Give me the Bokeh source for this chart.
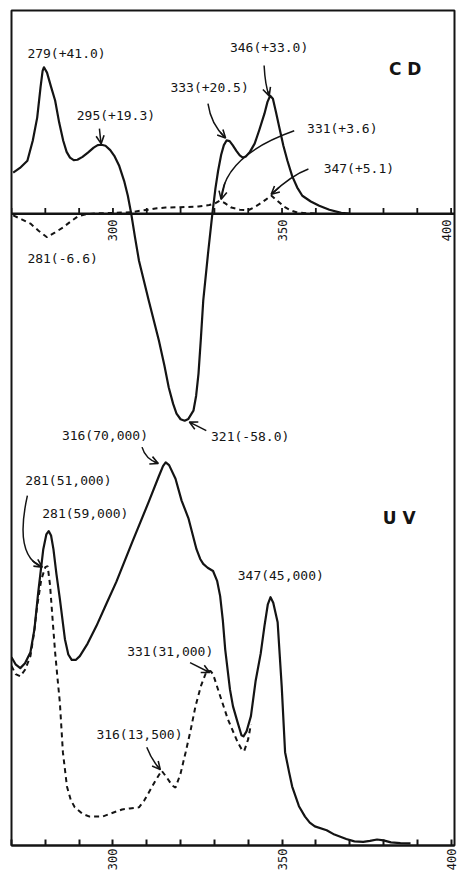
import math
from bokeh.plotting import figure
from bokeh.models import Range1d, FixedTicker, Arrow, OpenHead, Span, Label
from bokeh.core.properties import value
from bokeh.embed import file_html
from bokeh.resources import INLINE

# ---------------- data ----------------
cd_solid_nm = [270.5, 272.5, 274.7, 276.3, 277.6, 278.6, 279.2, 279.6, 280.5, 281.7, 282.9, 284.1,
               285.3, 286.3, 287.3, 288.4, 289.5, 291.0, 292.6, 294.3, 295.5, 296.6, 297.8, 299.2,
               300.4, 301.8, 303.3, 304.4, 305.4, 306.5, 307.7, 310.6, 313.6, 315.2, 316.5, 317.8,
               318.8, 320.0, 321.2, 322.3, 323.8, 324.6, 325.3, 326.0, 326.7, 328.2, 329.4, 330.3,
               331.1, 332.0, 332.8, 333.6, 334.5, 335.4, 336.5, 337.5, 338.4, 339.3, 340.5, 341.9,
               343.3, 344.8, 345.7, 346.5, 347.3, 348.2, 349.2, 350.4, 351.6, 353.0, 354.5, 356.0,
               358.5, 361.0, 364.0, 367.5, 370.0]
cd_solid_val = [11.5, 12.8, 14.8, 20.5, 26.9, 35.5, 40.0, 41.0, 39.5, 35.5, 31.7, 25.5,
                20.4, 17.3, 15.7, 15.0, 15.1, 15.9, 17.1, 18.5, 19.2, 19.3, 19.0, 17.8,
                16.2, 13.5, 9.2, 5.0, 0.0, -6.5, -13.2, -24.4, -35.6, -42.5, -48.7, -53.3,
                -56.0, -57.6, -58.0, -57.5, -55.2, -51.0, -44.8, -35.0, -24.4, -10.4, 0.0, 7.0,
                12.0, 16.5, 19.2, 20.5, 20.3, 19.2, 17.6, 16.3, 15.7, 16.0, 17.3, 19.6,
                23.5, 28.0, 31.3, 33.0, 32.2, 28.5, 24.1, 19.0, 14.8, 10.5, 7.3, 5.0,
                3.4, 2.2, 1.1, 0.2, 0.0]

cd_dash_nm = [270.5, 273.0, 275.6, 278.0, 280.5, 282.8, 285.2, 287.5, 289.6, 292.0, 295.8, 300.0,
              305.7, 308.0, 310.6, 313.0, 315.6, 320.0, 325.3, 328.5, 330.2, 331.5, 333.0, 335.0,
              337.5, 339.9, 341.8, 343.7, 345.3, 346.8, 348.5, 350.7, 352.6, 354.5, 357.5, 361.0]
cd_dash_val = [-0.5, -1.6, -2.8, -4.8, -6.6, -5.3, -3.9, -2.2, -0.8, -0.2, 0.1, 0.2,
               0.4, 0.8, 1.1, 1.5, 1.7, 1.8, 2.0, 2.4, 2.9, 3.6, 3.0, 1.7,
               1.1, 0.9, 1.8, 2.9, 4.0, 5.1, 3.7, 1.9, 0.9, 0.3, 0.1, 0.0]

uv_solid_nm = [270.0, 271.2, 272.6, 274.0, 275.6, 276.8, 277.9, 279.4, 280.3, 281.0, 281.7, 282.4,
               283.3, 284.3, 285.8, 286.8, 287.8, 289.0, 290.2, 292.5, 295.1, 298.0, 301.0, 305.7,
               310.6, 313.6, 314.8, 315.6, 316.6, 318.5, 320.3, 322.3, 324.7, 325.8, 326.7, 328.0,
               329.6, 330.8, 331.7, 332.5, 333.2, 334.6, 335.5, 336.8, 338.0, 338.6, 339.5, 340.8,
               342.2, 343.7, 344.8, 345.8, 346.6, 347.4, 348.7, 349.9, 350.9, 352.1, 353.0, 355.0,
               356.8, 358.2, 359.7, 363.2, 365.5, 369.0, 371.4, 374.0, 376.0, 378.1, 380.0, 382.2,
               385.0, 388.0]
uv_solid_val = [34300, 33000, 32300, 33200, 35200, 39500, 46200, 54100, 56800, 57400, 56600, 54100,
                49500, 45000, 37600, 34800, 33800, 33800, 34500, 36800, 40000, 44000, 48100, 55400,
                62800, 67500, 69300, 70000, 69500, 67000, 63000, 59800, 54100, 52300, 51400, 50700,
                50100, 48300, 45500, 41000, 35700, 28400, 25300, 22500, 20000, 19800, 20700, 23500,
                30000, 35000, 40000, 44000, 45300, 44300, 40700, 29000, 16900, 13200, 10600, 7000,
                5100, 4000, 3300, 2600, 1800, 1000, 550, 450, 650, 900, 750, 370,
                250, 200]

uv_dash_nm = [270.0, 271.2, 272.6, 274.0, 275.6, 276.6, 277.6, 278.8, 280.0, 280.7, 281.4, 282.3,
              282.9, 283.6, 284.3, 285.2, 286.4, 287.5, 288.7, 291.0, 293.1, 296.9, 299.5, 302.7,
              305.0, 307.7, 309.2, 310.6, 312.5, 314.4, 316.0, 317.5, 318.5, 320.0, 321.5, 323.0,
              324.4, 326.0, 327.6, 328.8, 329.6, 330.6, 331.7, 334.0, 336.9, 338.0, 338.8, 340.0,
              340.8]
uv_dash_val = [32700, 31200, 30800, 32000, 34500, 38500, 43700, 48500, 50800, 51000, 47500, 40000,
               35200, 30500, 26000, 16900, 10600, 8200, 6800, 5600, 5100, 5100, 5700, 6400,
               6600, 6800, 8000, 9500, 11600, 13500, 12200, 10800, 10400, 13000, 16900, 21000,
               25300, 29000, 31600, 31800, 31200, 29300, 27200, 22900, 18700, 17500, 17100, 19300,
               22000]

x_ticks = [270, 280, 290, 300, 310, 320, 330, 340, 350, 360, 370, 380, 390, 400]
tick_labels = ["300", "350", "400"]
tick_label_nm = [300, 350, 400]

cd_label_text = ["279(+41.0)", "295(+19.3)", "346(+33.0)", "333(+20.5)", "331(+3.6)",
                 "347(+5.1)", "281(-6.6)", "321(-58.0)"]
cd_label_x = [274.7, 289.3, 334.6, 317.0, 357.4, 362.3, 274.7, 329.0]
cd_label_y = [44.8, 27.5, 46.5, 35.3, 23.8, 12.6, -12.6, -62.5]

uv_label_text = ["316(70,000)", "281(51,000)", "281(59,000)", "347(45,000)", "331(31,000)",
                 "316(13,500)"]
uv_label_x = [284.9, 274.1, 279.1, 336.9, 304.2, 295.1]
uv_label_y = [74900, 66600, 60700, 49200, 35400, 20200]

# arrows: start, control, end
cd_arrows = [
    ((296.0, 23.8), (296.2, 21.8), (296.5, 19.6)),
    ((344.7, 41.5), (345.0, 35.9), (346.2, 33.0)),
    ((328.1, 30.8), (329.0, 24.9), (333.3, 21.2)),
    ((353.6, 23.2), (332.8, 16.2), (332.0, 4.0)),
    ((357.8, 12.5), (352.7, 10.7), (346.8, 5.4)),
    ((327.6, -60.8), (325.2, -59.6), (322.6, -58.4)),
]
uv_arrows = [
    ((308.6, 72800), (309.6, 70600), (313.4, 69800)),
    ((274.7, 63900), (270.7, 52800), (279.1, 50800)),
    ((322.8, 33300), (325.7, 32400), (328.6, 31500)),
    ((310.0, 17800), (311.5, 15400), (314.0, 13700)),
]

X_RANGE = (270, 401.0)
CD_RANGE = (-177.0, 56.9)
UV_RANGE = (-200, 152800)
INK = "#141414"
MONO = "DejaVu Sans Mono"

p = figure(width=458, height=874, x_range=Range1d(*X_RANGE), y_range=Range1d(*CD_RANGE),
           output_backend="svg", toolbar_location=None,
           min_border_left=11, min_border_right=4, min_border_top=10, min_border_bottom=29)
p.extra_y_ranges = {"uv": Range1d(*UV_RANGE)}
p.grid.visible = False
p.yaxis.visible = False
p.background_fill_color = "white"
p.border_fill_color = "white"
p.outline_line_color = INK
p.outline_line_width = 2
p.outline_line_alpha = 1

ax = p.xaxis[0]
ax.ticker = FixedTicker(ticks=x_ticks, minor_ticks=[])
ax.major_label_overrides = {t: (str(t) if t in tick_label_nm else "") for t in x_ticks}
ax.major_label_text_font = MONO
ax.major_label_text_font_size = "12px"
ax.major_label_text_color = INK
ax.major_label_orientation = math.pi / 2
ax.major_label_standoff = 3
ax.major_tick_in = 6
ax.major_tick_out = 0
ax.major_tick_line_width = 2
ax.major_tick_line_color = INK
ax.axis_line_width = 2
ax.axis_line_color = INK

# CD zero axis inside the frame
p.add_layout(Span(location=0, dimension="width", line_color=INK, line_width=2.5))
p.segment(x0=x_ticks, y0=[0] * len(x_ticks), x1=x_ticks, y1=[1.6] * len(x_ticks),
          line_color=INK, line_width=1.8)

for nm, txt in zip(tick_label_nm, tick_labels):
    base = "bottom" if nm == 400 else "middle"
    p.add_layout(Label(x=nm, y=0, text=txt, angle=math.pi / 2, text_align="right",
                       text_baseline=base, y_offset=-6, text_font=MONO,
                       text_font_size="12px", text_color=INK))

# curves
p.line(cd_solid_nm, cd_solid_val, line_color=INK, line_width=2.2, line_join="round")
p.line(cd_dash_nm, cd_dash_val, line_color=INK, line_width=2, line_dash="5 4")
p.line(uv_solid_nm, uv_solid_val, line_color=INK, line_width=2.2, line_join="round",
       y_range_name="uv")
p.line(uv_dash_nm, uv_dash_val, line_color=INK, line_width=2, line_dash="5 4",
       y_range_name="uv")

# annotation texts
p.text(x=cd_label_x, y=cd_label_y, text=cd_label_text, text_font=value(MONO),
       text_font_size="13px", text_align="left", text_baseline="middle", text_color=INK)
p.text(x=uv_label_x, y=uv_label_y, text=uv_label_text, text_font=value(MONO),
       text_font_size="13px", text_align="left", text_baseline="middle", text_color=INK,
       y_range_name="uv")
p.text(x=[381.6], y=[40.6], text=["C D"], text_font=value("DejaVu Sans"),
       text_font_style="bold", text_font_size="17px", text_align="left",
       text_baseline="middle", text_color=INK)
p.text(x=[379.8], y=[59800], text=["U V"], text_font=value("DejaVu Sans"),
       text_font_style="bold", text_font_size="17px", text_align="left",
       text_baseline="middle", text_color=INK, y_range_name="uv")


def bez(s, c, e, t):
    return ((1 - t) ** 2 * s[0] + 2 * (1 - t) * t * c[0] + t ** 2 * e[0],
            (1 - t) ** 2 * s[1] + 2 * (1 - t) * t * c[1] + t ** 2 * e[1])


for arrows, rng in ((cd_arrows, "default"), (uv_arrows, "uv")):
    for s, c, e in arrows:
        p.quadratic(x0=[s[0]], y0=[s[1]], x1=[e[0]], y1=[e[1]], cx=[c[0]], cy=[c[1]],
                    line_color=INK, line_width=1.5, y_range_name=rng)
        n = bez(s, c, e, 0.8)
        p.add_layout(Arrow(end=OpenHead(size=8, line_width=1.6, line_color=INK),
                           x_start=n[0], y_start=n[1], x_end=e[0], y_end=e[1],
                           line_color=INK, line_width=1.5, y_range_name=rng))

open("out.html", "w").write(file_html(p, INLINE))
